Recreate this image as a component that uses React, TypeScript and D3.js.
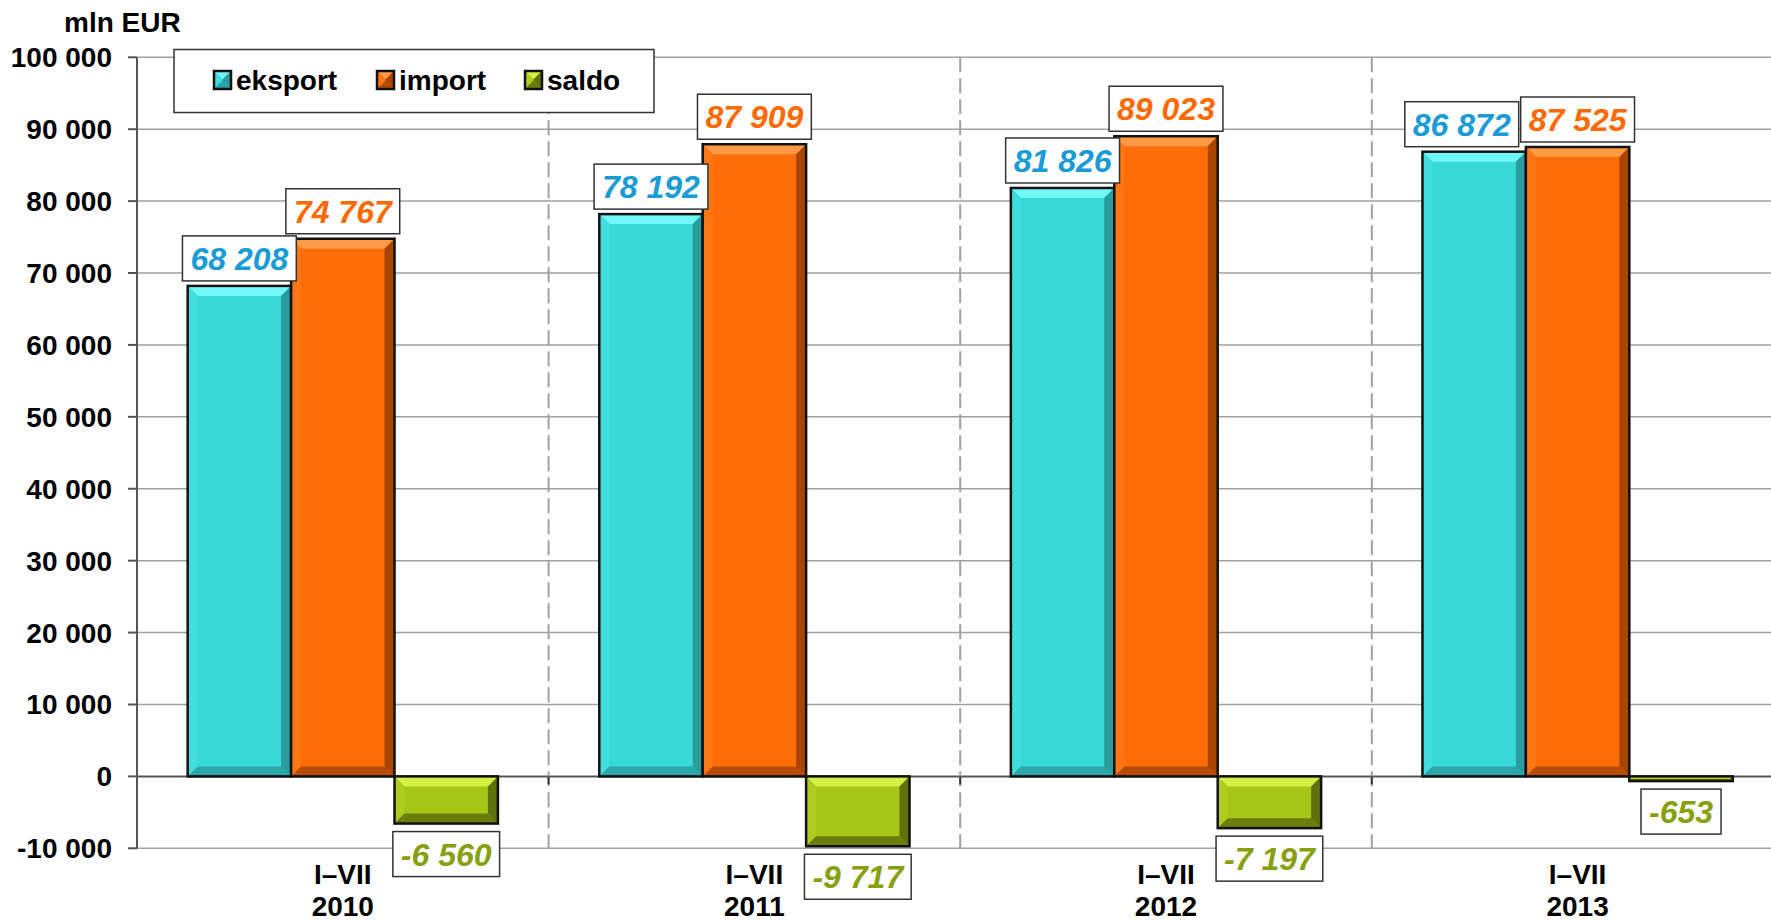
import React from "react";
import * as d3 from "d3";

const categories = ["2010", "2011", "2012", "2013"];
const periodLabel = "I–VII";
const seriesNames = ["eksport", "import", "saldo"];
const eksport = [68208, 78192, 81826, 86872];
const importVals = [74767, 87909, 89023, 87525];
const saldo = [-6560, -9717, -7197, -653];
const yTicks = [-10000, 0, 10000, 20000, 30000, 40000, 50000, 60000, 70000, 80000, 90000, 100000];
const unitLabel = "mln EUR";

const W = 1771;
const H = 922;
const FONT = "'Liberation Sans', Arial, sans-serif";

const palette: Record<string, { base: string; light: string; dark: string; side: string; label: string }> = {
  eksport: { base: "#3ad9d9", light: "#72f7f7", dark: "#2a9c9c", side: "#40dede", label: "#1a9bd6" },
  import: { base: "#ff6d08", light: "#ff9a45", dark: "#a84600", side: "#ff7614", label: "#ff6a00" },
  saldo: { base: "#a8c618", light: "#d6f043", dark: "#5f700c", side: "#b0cc20", label: "#86a00f" },
};

const locale = d3.formatLocale({ decimal: ",", thousands: " ", grouping: [3], currency: ["", ""], minus: "-" });
const fmt = locale.format(",.0f");

function Bevel({ x, y, w, h, s }: { x: number; y: number; w: number; h: number; s: string }) {
  const c = palette[s];
  const b = Math.min(10, h / 2, w / 2);
  const p = (pts: number[][]) => pts.map((q) => q.join(",")).join(" ");
  return (
    <g>
      <rect x={x} y={y} width={w} height={h} fill={c.base} />
      <polygon points={p([[x, y], [x + w, y], [x + w - b, y + b], [x + b, y + b]])} fill={c.light} />
      <polygon points={p([[x, y], [x + b, y + b], [x + b, y + h - b], [x, y + h]])} fill={c.side} />
      <polygon points={p([[x + w, y], [x + w, y + h], [x + w - b, y + h - b], [x + w - b, y + b]])} fill={c.dark} />
      <polygon points={p([[x, y + h], [x + w, y + h], [x + w - b, y + h - b], [x + b, y + h - b]])} fill={c.dark} opacity={0.85} />
      <rect x={x} y={y} width={w} height={h} fill="none" stroke="#111" strokeWidth={2.5} />
    </g>
  );
}

export default function App() {
  const x0 = d3.scaleBand<string>().domain(categories).range([137, 1783.4]).paddingInner(0).paddingOuter(0);
  const x1 = d3.scaleBand<string>().domain(seriesNames).range([0, x0.bandwidth()]).paddingInner(0).paddingOuter(0.49);
  const y = d3.scaleLinear().domain([-10000, 100000]).range([848.3, 57.3]);
  const plotLeft = 137;
  const plotRight = W;

  const data: Record<string, number[]> = { eksport, import: importVals, saldo };
  const labelFont = 32;
  const labelPad = 8;
  const boxH = 45;

  const bars: any[] = [];
  const labelSpecs: any[] = [];
  categories.forEach((cat, i) => {
    seriesNames.forEach((s) => {
      const v = data[s][i];
      const bx = (x0(cat) as number) + (x1(s) as number);
      const bw = x1.bandwidth();
      const y0 = y(0);
      const yv = y(v);
      const top = Math.min(y0, yv);
      const h = Math.abs(yv - y0);
      bars.push(<Bevel key={`b-${cat}-${s}`} x={bx} y={top} w={bw} h={h} s={s} />);
      const txt = fmt(v);
      let tw = 0;
      for (const ch of txt) tw += ch === " " ? 0.278 : ch === "-" ? 0.333 : 0.556;
      tw *= labelFont;
      const boxW = tw + 2 * labelPad;
      const cx = bx + bw / 2;
      const boxY = v >= 0 ? yv - 5 - boxH : yv + 8;
      labelSpecs.push({ key: `l-${cat}-${s}`, cat, s, txt, cx, boxW, boxY });
    });
  });

  // nudge overlapping neighbour labels (eksport box left of import box)
  categories.forEach((cat) => {
    const a = labelSpecs.find((l) => l.cat === cat && l.s === "eksport");
    const b = labelSpecs.find((l) => l.cat === cat && l.s === "import");
    const aRight = a.cx + a.boxW / 2;
    const bLeft = b.cx - b.boxW / 2;
    const vOverlap = Math.abs(a.boxY - b.boxY) < boxH;
    if (vOverlap && aRight > bLeft - 2) {
      const shift = aRight - (bLeft - 2);
      a.cx -= shift;
    }
  });

  const labels = labelSpecs.map((l) => (
    <g key={l.key}>
      <rect x={l.cx - l.boxW / 2} y={l.boxY} width={l.boxW} height={boxH} fill="#fff" stroke="#333" strokeWidth={1.5} />
      <text
        x={l.cx}
        y={l.boxY + boxH / 2 + labelFont * 0.36}
        textAnchor="middle"
        fontFamily={FONT}
        fontWeight="bold"
        fontStyle="italic"
        fontSize={labelFont}
        fill={palette[l.s].label}
      >
        {l.txt}
      </text>
    </g>
  ));

  const legendItems = [
    { s: "eksport", sx: 214, tx: 236 },
    { s: "import", sx: 377, tx: 399 },
    { s: "saldo", sx: 525, tx: 547 },
  ];

  return (
    <svg width={W} height={H} style={{ position: "absolute", left: 0, top: 0, background: "#fff" }}>
      <rect x={0} y={0} width={W} height={H} fill="#fff" />
      {yTicks.map((t) => (
        <line key={`g${t}`} x1={plotLeft} x2={plotRight} y1={y(t)} y2={y(t)} stroke={t === 0 ? "#555" : "#a0a0a0"} strokeWidth={t === 0 ? 2 : 1.5} />
      ))}
      {categories.slice(1).map((c) => (
        <line key={`d${c}`} x1={x0(c)} x2={x0(c)} y1={y(100000)} y2={y(-10000)} stroke="#a0a0a0" strokeWidth={2} strokeDasharray="15 6" />
      ))}
      {categories.slice(1).map((c) => (
        <line key={`xt${c}`} x1={x0(c)} x2={x0(c)} y1={y(0)} y2={y(0) + 8} stroke="#333" strokeWidth={2} />
      ))}
      <line x1={plotLeft} x2={plotLeft} y1={y(100000)} y2={y(-10000)} stroke="#555" strokeWidth={2} />
      {yTicks.map((t) => (
        <g key={`t${t}`}>
          <line x1={plotLeft - 9} x2={plotLeft} y1={y(t)} y2={y(t)} stroke="#555" strokeWidth={2} />
          <text x={112} y={y(t) + 10} textAnchor="end" fontFamily={FONT} fontWeight="bold" fontSize={28} fill="#000">
            {fmt(t)}
          </text>
        </g>
      ))}
      <text x={64} y={32} fontFamily={FONT} fontWeight="bold" fontSize={28} fill="#000">
        {unitLabel}
      </text>
      {bars}
      {categories.map((c) => {
        const cx = (x0(c) as number) + x0.bandwidth() / 2;
        return (
          <g key={`c${c}`} fontFamily={FONT} fontWeight="bold" fontSize={28} fill="#000" textAnchor="middle">
            <text x={cx} y={884}>{periodLabel}</text>
            <text x={cx} y={916}>{c}</text>
          </g>
        );
      })}
      {labels}
      <rect x={174} y={49.5} width={480} height={63} fill="#fff" stroke="#333" strokeWidth={1.5} />
      {legendItems.map((it) => (
        <g key={`lg${it.s}`}>
          <Bevel x={it.sx} y={71} w={17} h={18} s={it.s} />
          <text x={it.tx} y={90} fontFamily={FONT} fontWeight="bold" fontSize={28} fill="#000">
            {it.s}
          </text>
        </g>
      ))}
    </svg>
  );
}
